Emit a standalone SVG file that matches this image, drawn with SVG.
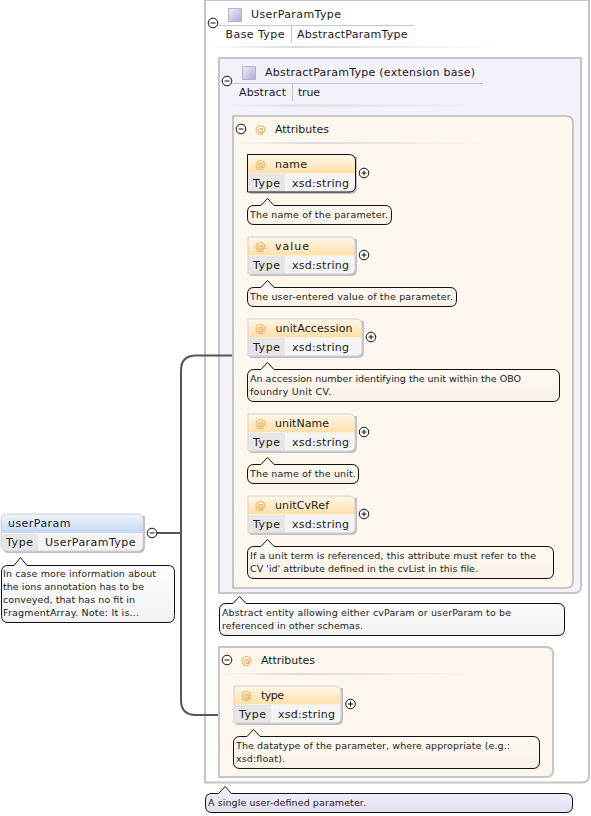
<svg xmlns="http://www.w3.org/2000/svg" width="591" height="816" viewBox="0 0 591 816">
<style>
text{font-family:"DejaVu Sans",sans-serif;font-size:11px;fill:#1a1a1a}
.n{font-size:9.5px;fill:#222}
.at{fill:#e8a33a;font-size:11px}
.frame{fill:#fff;stroke:#c4c4c4;stroke-width:2}
.cell{fill:#e6e6e6}
.val{fill:#f4f4f4}
.nbox{stroke:#111;stroke-width:1}
.plus{fill:#fff;stroke:#111;stroke-width:1}
.sym{stroke:#111;stroke-width:1;fill:none}
.conn{fill:none;stroke:#555;stroke-width:2}
.hline{stroke:#c8c8c8;stroke-width:1;fill:none}
.bdr{fill:none;stroke:#d2d2d2;stroke-width:1}
.shadow{fill:#c0c0c0}
.base{fill:#fff}
</style>
<defs>
<linearGradient id="gy" x1="0" y1="0" x2="0" y2="1"><stop offset="0" stop-color="#fff8ea"/><stop offset="1" stop-color="#ffdfa8"/></linearGradient>
<linearGradient id="gb" x1="0" y1="0" x2="0" y2="1"><stop offset="0" stop-color="#f0f5fc"/><stop offset="1" stop-color="#c4d8f4"/></linearGradient>
<linearGradient id="gn" x1="0" y1="0" x2="0" y2="1"><stop offset="0" stop-color="#fffcf6"/><stop offset="1" stop-color="#f8f1e6"/></linearGradient>
<linearGradient id="gw" x1="0" y1="0" x2="0" y2="1"><stop offset="0" stop-color="#fff"/><stop offset="1" stop-color="#f2f2f2"/></linearGradient>
<linearGradient id="gp" x1="0" y1="0" x2="0" y2="1"><stop offset="0" stop-color="#f5f3fb"/><stop offset="1" stop-color="#e2dff0"/></linearGradient>
<linearGradient id="gi" x1="0" y1="0" x2="1" y2="1"><stop offset="0" stop-color="#f0ecf8"/><stop offset="1" stop-color="#b5a6d8"/></linearGradient>
<linearGradient id="sep" x1="0" y1="0" x2="1" y2="0"><stop offset="0" stop-color="#dcdcdc" stop-opacity="0"/><stop offset="0.3" stop-color="#dcdcdc"/><stop offset="1" stop-color="#dcdcdc" stop-opacity="0"/></linearGradient>
<g id="minus"><circle r="4.800" class="plus"/><path d="M-2.500 0H2.500" class="sym"/></g>
<g id="plus"><circle r="4.800" class="plus"/><path d="M-2.500 0H2.500M0 -2.500V2.500" class="sym"/></g>
<rect id="icon" width="13" height="13" fill="url(#gi)" stroke="#b9b4c8"/>
</defs>

<g id="userParamType">
<path class="frame" d="M205 0H589V775Q589 782.500 582 782.500H205Z"/>
<use href="#icon" x="228.500" y="8.500"/>
<text x="251" y="18" textLength="90">UserParamType</text>
<use href="#minus" x="213" y="23"/>
<path class="hline" d="M218 25.500H414M291.500 26V43"/>
<text x="225.500" y="38" textLength="59">Base Type</text>
<text x="297" y="38" textLength="110.500">AbstractParamType</text>
<rect x="208" y="46" width="290" height="2" fill="url(#sep)"/>
</g>

<g id="abstractParamType">
<path d="M219 58H581V586Q581 593 574 593H219Z" fill="#f3f1fa" stroke="#c6c6c6" stroke-width="2"/>
<use href="#icon" x="242.500" y="66.500"/>
<text x="265" y="76" textLength="210">AbstractParamType (extension base)</text>
<use href="#minus" x="227" y="81"/>
<path class="hline" d="M232 83.500H483M292.500 84V101"/>
<text x="239" y="96" textLength="47">Abstract</text>
<text x="298" y="96" textLength="22">true</text>
<rect x="222" y="104.500" width="272" height="2" fill="url(#sep)"/>
</g>

<g id="connectors">
<path class="conn" d="M157 533H180M233 355.500H196Q181 355.500 181 370.500V700Q181 715 196 715H233"/>
</g>

<g id="attributes1">
<path d="M233 116H566Q573 116 573 123V581Q573 588 566 588H233Z" fill="#fdf7ee" stroke="#c6c6c6" stroke-width="2"/>
<use href="#minus" x="241" y="129"/>
<text class="at" x="255" y="133">@</text>
<text x="275" y="133" textLength="54">Attributes</text>
<rect x="236" y="142" width="250" height="2" fill="url(#sep)"/>
</g>

<g id="attr-name">
<path class="shadow" d="M250 157H357V188Q357 194 351 194H250Z"/>
<path class="base" d="M248 155H349Q355 155 355 161V186Q355 192 349 192H248Z"/>
<path d="M248 155H349Q355 155 355 161V173.500H248Z" fill="url(#gy)"/>
<rect class="cell" x="248" y="174" width="37.500" height="18"/>
<path class="val" d="M286.500 174H355V186Q355 192 349 192H286.500Z"/>
<path d="M247.500 154.500H349Q355.500 154.500 355.500 161V186Q355.500 192 349 192H247.500Z" fill="none" stroke="#111"/>
<text class="at" x="255" y="168">@</text><text x="275" y="168" textLength="32">name</text>
<text x="253" y="187" textLength="27">Type</text><text x="292" y="187" textLength="57">xsd:string</text>
<use href="#plus" x="364" y="173"/>
<path class="nbox" fill="url(#gn)" d="M254 205.500H261L267.500 198.500L274 205.500H385Q391.500 205.500 391.500 212V218Q391.500 224.500 385 224.500H254Q247.500 224.500 247.500 218V212Q247.500 205.500 254 205.500Z"/>
<text class="n" x="250" y="218" textLength="138">The name of the parameter.</text>
</g>

<g id="attr-value">
<path class="shadow" d="M250 239H357V270Q357 276 351 276H250Z"/>
<path class="base" d="M248 237H349Q355 237 355 243V268Q355 274 349 274H248Z"/>
<path d="M248 237H349Q355 237 355 243V255.500H248Z" fill="url(#gy)"/>
<rect class="cell" x="248" y="256" width="37.500" height="18"/>
<path class="val" d="M286.500 256H355V268Q355 274 349 274H286.500Z"/>
<path class="bdr" d="M248 237H349Q355 237 355 243V268Q355 274 349 274H248Z"/>
<text class="at" x="255" y="250">@</text><text x="275" y="250" textLength="34">value</text>
<text x="253" y="269" textLength="27">Type</text><text x="292" y="269" textLength="57">xsd:string</text>
<use href="#plus" x="364" y="255"/>
<path class="nbox" fill="url(#gn)" d="M254 287.500H261L267.500 280.500L274 287.500H450Q456.500 287.500 456.500 294V300Q456.500 306.500 450 306.500H254Q247.500 306.500 247.500 300V294Q247.500 287.500 254 287.500Z"/>
<text class="n" x="250" y="300" textLength="203">The user-entered value of the parameter.</text>
</g>

<g id="attr-unitAccession">
<path class="shadow" d="M250 321H364V352Q364 358 358 358H250Z"/>
<path class="base" d="M248 319H356Q362 319 362 325V350Q362 356 356 356H248Z"/>
<path d="M248 319H356Q362 319 362 325V337.500H248Z" fill="url(#gy)"/>
<rect class="cell" x="248" y="338" width="37.500" height="18"/>
<path class="val" d="M286.500 338H362V350Q362 356 356 356H286.500Z"/>
<path class="bdr" d="M248 319H356Q362 319 362 325V350Q362 356 356 356H248Z"/>
<text class="at" x="255" y="332">@</text><text x="275.500" y="332" textLength="77">unitAccession</text>
<text x="253" y="351" textLength="27">Type</text><text x="292" y="351" textLength="57">xsd:string</text>
<use href="#plus" x="371" y="337"/>
<path class="nbox" fill="url(#gn)" d="M254 369.500H261L267.500 362.500L274 369.500H553Q559.500 369.500 559.500 376V395Q559.500 401.500 553 401.500H254Q247.500 401.500 247.500 395V376Q247.500 369.500 254 369.500Z"/>
<text class="n" x="250" y="382" textLength="271">An accession number identifying the unit within the OBO</text>
<text class="n" x="250" y="395" textLength="81">foundry Unit CV.</text>
</g>

<g id="attr-unitName">
<path class="shadow" d="M250 416H357V447Q357 453 351 453H250Z"/>
<path class="base" d="M248 414H349Q355 414 355 420V445Q355 451 349 451H248Z"/>
<path d="M248 414H349Q355 414 355 420V432.500H248Z" fill="url(#gy)"/>
<rect class="cell" x="248" y="433" width="37.500" height="18"/>
<path class="val" d="M286.500 433H355V445Q355 451 349 451H286.500Z"/>
<path class="bdr" d="M248 414H349Q355 414 355 420V445Q355 451 349 451H248Z"/>
<text class="at" x="255" y="427">@</text><text x="275" y="427" textLength="54">unitName</text>
<text x="253" y="446" textLength="27">Type</text><text x="292" y="446" textLength="57">xsd:string</text>
<use href="#plus" x="364" y="432"/>
<path class="nbox" fill="url(#gn)" d="M254 464.500H261L267.500 457.500L274 464.500H352Q358.500 464.500 358.500 471V477Q358.500 483.500 352 483.500H254Q247.500 483.500 247.500 477V471Q247.500 464.500 254 464.500Z"/>
<text class="n" x="250" y="477" textLength="106">The name of the unit.</text>
</g>

<g id="attr-unitCvRef">
<path class="shadow" d="M250 498H357V529Q357 535 351 535H250Z"/>
<path class="base" d="M248 496H349Q355 496 355 502V527Q355 533 349 533H248Z"/>
<path d="M248 496H349Q355 496 355 502V514.500H248Z" fill="url(#gy)"/>
<rect class="cell" x="248" y="515" width="37.500" height="18"/>
<path class="val" d="M286.500 515H355V527Q355 533 349 533H286.500Z"/>
<path class="bdr" d="M248 496H349Q355 496 355 502V527Q355 533 349 533H248Z"/>
<text class="at" x="255" y="509">@</text><text x="275" y="509" textLength="54">unitCvRef</text>
<text x="253" y="528" textLength="27">Type</text><text x="292" y="528" textLength="57">xsd:string</text>
<use href="#plus" x="364" y="514"/>
<path class="nbox" fill="url(#gn)" d="M254 546.500H261L267.500 539.500L274 546.500H547Q553.500 546.500 553.500 553V572Q553.500 578.500 547 578.500H254Q247.500 578.500 247.500 572V553Q247.500 546.500 254 546.500Z"/>
<text class="n" x="250" y="559" textLength="286">If a unit term is referenced, this attribute must refer to the</text>
<text class="n" x="250" y="572" textLength="228">CV 'id' attribute defined in the cvList in this file.</text>
</g>

<g id="note-abstract">
<path class="nbox" fill="url(#gw)" d="M226 603.500H233L239.500 596.500L246 603.500H558Q564.500 603.500 564.500 610V629Q564.500 635.500 558 635.500H226Q219.500 635.500 219.500 629V610Q219.500 603.500 226 603.500Z"/>
<text class="n" x="222" y="616" textLength="289">Abstract entity allowing either cvParam or userParam to be</text>
<text class="n" x="222" y="629" textLength="141">referenced in other schemas.</text>
</g>

<g id="attributes2">
<path d="M219 647H546Q553 647 553 654V770Q553 777 546 777H219Z" fill="#fdf7ee" stroke="#c6c6c6" stroke-width="2"/>
<use href="#minus" x="227" y="660"/>
<text class="at" x="241" y="664">@</text>
<text x="261" y="664" textLength="54">Attributes</text>
<rect x="222" y="673" width="250" height="2" fill="url(#sep)"/>
</g>

<g id="attr-type">
<path class="shadow" d="M236 688H343V719Q343 725 337 725H236Z"/>
<path class="base" d="M234 686H335Q341 686 341 692V717Q341 723 335 723H234Z"/>
<path d="M234 686H335Q341 686 341 692V704.500H234Z" fill="url(#gy)"/>
<rect class="cell" x="234" y="705" width="37.500" height="18"/>
<path class="val" d="M272.500 705H341V717Q341 723 335 723H272.500Z"/>
<path class="bdr" d="M234 686H335Q341 686 341 692V717Q341 723 335 723H234Z"/>
<text class="at" x="241" y="699">@</text><text x="261" y="699" textLength="23">type</text>
<text x="239" y="718" textLength="27">Type</text><text x="278" y="718" textLength="57">xsd:string</text>
<use href="#plus" x="350.500" y="704"/>
<path class="nbox" fill="url(#gn)" d="M240 736.500H247L253.500 729.500L260 736.500H533Q539.500 736.500 539.500 743V762Q539.500 768.500 533 768.500H240Q233.500 768.500 233.500 762V743Q233.500 736.500 240 736.500Z"/>
<text class="n" x="236" y="749" textLength="274">The datatype of the parameter, where appropriate (e.g.:</text>
<text class="n" x="236" y="762" textLength="49">xsd:float).</text>
</g>

<g id="note-single">
<path class="nbox" fill="url(#gp)" d="M212 793.500H218.500L225 786.500L231.500 793.500H566Q572.500 793.500 572.500 800V806Q572.500 812.500 566 812.500H212Q205.500 812.500 205.500 806V800Q205.500 793.500 212 793.500Z"/>
<text class="n" x="208" y="806" textLength="158">A single user-defined parameter.</text>
</g>

<g id="userParam">
<path class="shadow" d="M3 516H145V547Q145 553 139 553H9Q3 553 3 547Z"/>
<path class="base" d="M7 514H137Q143 514 143 520V545Q143 551 137 551H7Q1 551 1 545V520Q1 514 7 514Z"/>
<path d="M7 514H137Q143 514 143 520V533H1V520Q1 514 7 514Z" fill="url(#gb)"/>
<path class="cell" d="M1 533.500H38.500V551H7Q1 551 1 545Z"/>
<path class="val" d="M39.500 533.500H143V545Q143 551 137 551H39.500Z"/>
<path class="bdr" d="M7 514H137Q143 514 143 520V545Q143 551 137 551H7Q1 551 1 545V520Q1 514 7 514Z"/>
<text x="8" y="527" textLength="62.500">userParam</text>
<text x="6" y="546" textLength="27">Type</text><text x="45" y="546" textLength="90.500">UserParamType</text>
<use href="#minus" x="152" y="533"/>
<path class="nbox" fill="url(#gw)" d="M8 565.500H14L20.500 557.500L27 565.500H168Q174.500 565.500 174.500 572V615.500Q174.500 622.500 168 622.500H8Q1.500 622.500 1.500 615.500V572Q1.500 565.500 8 565.500Z"/>
<text class="n" x="3" y="577" textLength="153">In case more information about</text>
<text class="n" x="3" y="590" textLength="141">the ions annotation has to be</text>
<text class="n" x="3" y="603" textLength="132">conveyed, that has no fit in</text>
<text class="n" x="3" y="616" textLength="136">FragmentArray. Note: It is...</text>
</g>
</svg>
